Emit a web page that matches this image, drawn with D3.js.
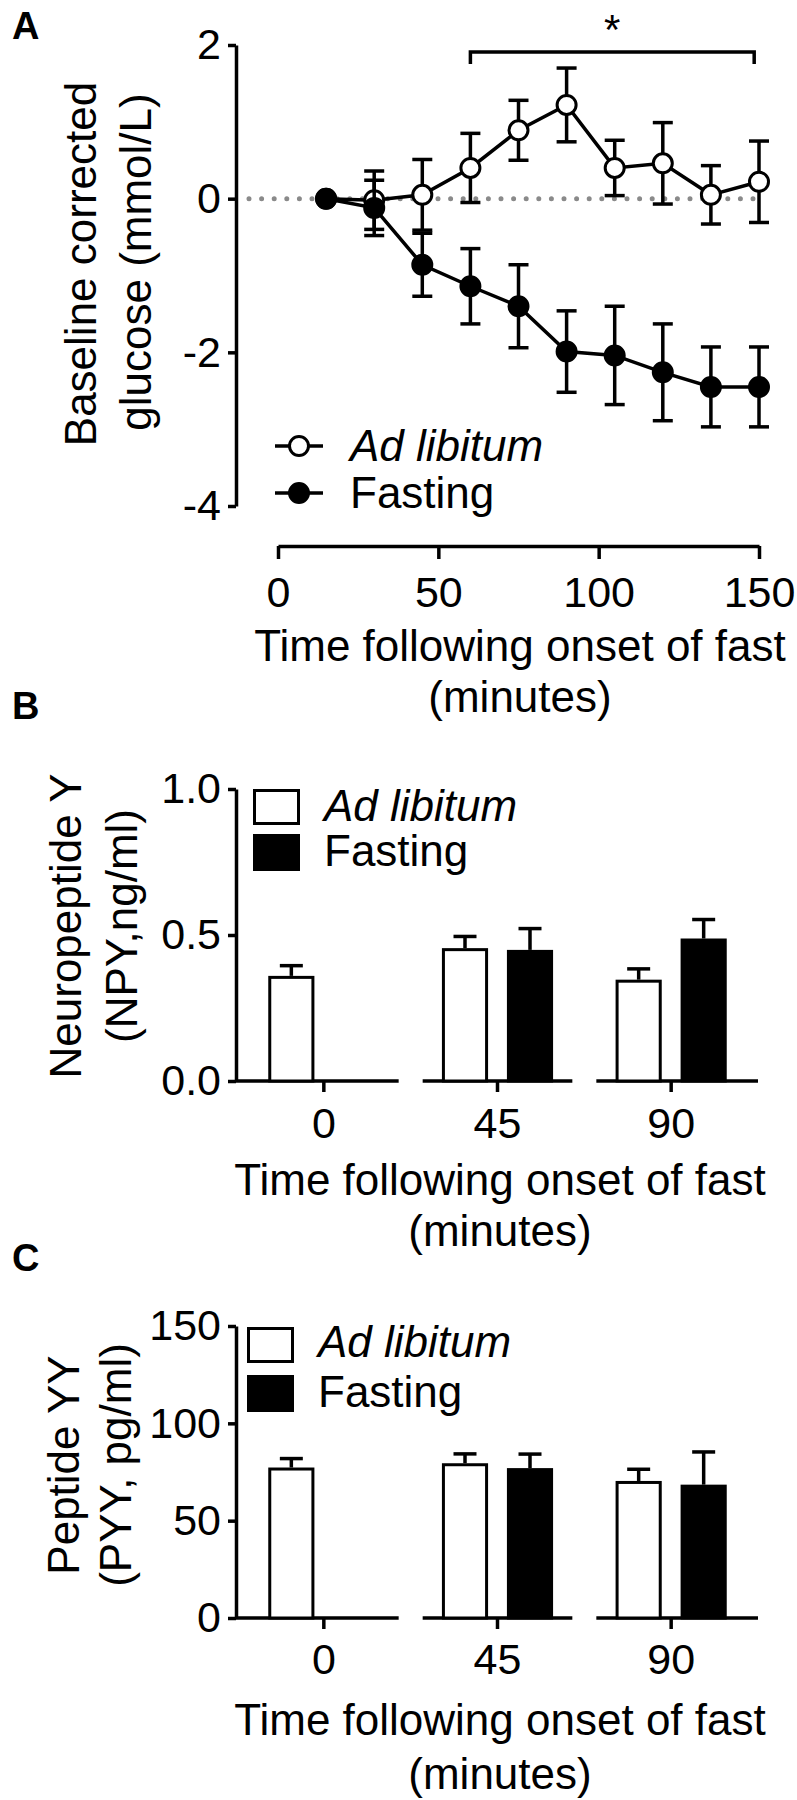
<!DOCTYPE html>
<html><head><meta charset="utf-8">
<script src="https://cdn.jsdelivr.net/npm/d3@7"></script>
<style>body{margin:0;background:#fff}</style>
</head><body><svg id="c" width="797" height="1800"></svg>
<script>
// ---------- DATA ----------
// Panel A: baseline corrected glucose (mmol/L)
const timesA      = [15, 30, 45, 60, 75, 90, 105, 120, 135, 150];
const adLibMeanA  = [0, -0.02, 0.05, 0.40, 0.89, 1.22, 0.40, 0.46, 0.05, 0.22];
const adLibSemA   = [0, 0.38, 0.46, 0.45, 0.39, 0.48, 0.36, 0.53, 0.38, 0.53];
const fastMeanA   = [0, -0.12, -0.86, -1.14, -1.40, -1.99, -2.04, -2.26, -2.45, -2.45];
const fastSemA    = [0, 0.36, 0.41, 0.49, 0.54, 0.53, 0.64, 0.63, 0.52, 0.52];
const yTicksA     = [-4, -2, 0, 2];
const xTicksA     = [0, 50, 100, 150];
const sigRangeA   = [60, 148.5];

// Panels B and C: groups
const groups      = ["0", "45", "90"];
const seriesNames = ["Ad libitum", "Fasting"];
// Panel B: Neuropeptide Y (ng/ml)
const npyAdLib    = [0.36, 0.455, 0.347];
const npyAdLibSem = [0.035, 0.04, 0.037];
const npyFast     = [null, 0.449, 0.488];
const npyFastSem  = [null, 0.073, 0.065];
const yTicksB     = [0, 0.5, 1.0];
// Panel C: Peptide YY (pg/ml)
const pyyAdLib    = [77.3, 79.5, 70.4];
const pyyAdLibSem = [4.6, 4.8, 6.0];
const pyyFast     = [null, 77.0, 68.5];
const pyyFastSem  = [null, 7.2, 16.8];
const yTicksC     = [0, 50, 100, 150];

// ---------- SETUP ----------
const FONT = '"Liberation Sans", Arial, Helvetica, sans-serif';
const SW = 3.5;
const TICKFS = 43;
const svg = d3.select("#c");
svg.append("rect").attr("width", 797).attr("height", 1800).attr("fill", "#fff");

function txt(x, y, s, size, opts = {}) {
  const t = svg.append("text").attr("x", x).attr("y", y).text(s)
    .attr("font-family", FONT).attr("font-size", size).attr("fill", "#000")
    .attr("text-anchor", opts.anchor || "start");
  if (opts.bold) t.attr("font-weight", "bold");
  if (opts.italic) t.attr("font-style", "italic");
  if (opts.rotate) t.attr("x", null).attr("y", null)
    .attr("transform", `translate(${x},${y}) rotate(-90)`);
  return t;
}
function styleAxis(g, fs) {
  g.attr("font-size", null).attr("font-family", null);
  g.selectAll("path.domain").attr("stroke", "#000").attr("stroke-width", SW);
  g.selectAll(".tick line").attr("stroke", "#000").attr("stroke-width", SW);
  g.selectAll(".tick text").attr("font-size", fs).attr("font-family", FONT).attr("fill", "#000");
}

// ---------- PANEL A ----------
txt(12, 39, "A", 38, {bold: true});
const xA = d3.scaleLinear().domain([0, 150]).range([278, 759]);
const yA = d3.scaleLinear().domain([-4, 2]).range([506, 45]);
const axA = 236;

const gyA = svg.append("g").attr("transform", `translate(${axA},0)`)
  .call(d3.axisLeft(yA).tickValues(yTicksA).tickSize(8).tickSizeOuter(0).tickPadding(7)
    .tickFormat(d => String(d)));
styleAxis(gyA, TICKFS);

const gxA = svg.append("g").attr("transform", "translate(0,546)")
  .call(d3.axisBottom(xA).tickValues(xTicksA).tickSize(13).tickSizeOuter(0));
styleAxis(gxA, TICKFS);
gxA.selectAll(".tick text").attr("dy", null).attr("y", 61);

// dotted zero line
svg.append("line").attr("x1", axA + 13).attr("x2", xA(150))
  .attr("y1", yA(0)).attr("y2", yA(0))
  .attr("stroke", "#8a8a8a").attr("stroke-width", 5)
  .attr("stroke-linecap", "round").attr("stroke-dasharray", "0,12.6");

const seriesA = [
  {name: "Ad libitum", fill: "#fff", pts: timesA.map((t, i) => ({t, m: adLibMeanA[i], s: adLibSemA[i]}))},
  {name: "Fasting", fill: "#000", pts: timesA.map((t, i) => ({t, m: fastMeanA[i], s: fastSemA[i]}))}
];
const lineA = d3.line().x(d => xA(d.t)).y(d => yA(d.m));
seriesA.forEach(sr => {
  const g = svg.append("g");
  sr.pts.filter(d => d.s > 0).forEach(d => {
    const x = xA(d.t);
    g.append("line").attr("x1", x).attr("x2", x).attr("y1", yA(d.m - d.s)).attr("y2", yA(d.m + d.s))
      .attr("stroke", "#000").attr("stroke-width", SW);
    [d.m - d.s, d.m + d.s].forEach(v => {
      g.append("line").attr("x1", x - 10).attr("x2", x + 10).attr("y1", yA(v)).attr("y2", yA(v))
        .attr("stroke", "#000").attr("stroke-width", SW);
    });
  });
  g.append("path").datum(sr.pts).attr("d", lineA).attr("fill", "none")
    .attr("stroke", "#000").attr("stroke-width", SW);
  g.selectAll("circle").data(sr.pts).join("circle")
    .attr("cx", d => xA(d.t)).attr("cy", d => yA(d.m)).attr("r", 9.5)
    .attr("fill", sr.fill).attr("stroke", "#000").attr("stroke-width", 3);
});

// significance bracket
svg.append("path")
  .attr("d", `M${xA(sigRangeA[0])},64V52H${xA(sigRangeA[1])}V64`)
  .attr("fill", "none").attr("stroke", "#000").attr("stroke-width", SW);
txt((xA(sigRangeA[0]) + xA(sigRangeA[1])) / 2, 44, "*", 42, {anchor: "middle"});

// legend A
seriesA.forEach((sr, i) => {
  const y = 446 + i * 47;
  svg.append("line").attr("x1", 275).attr("x2", 323).attr("y1", y).attr("y2", y)
    .attr("stroke", "#000").attr("stroke-width", SW);
  svg.append("circle").attr("cx", 299).attr("cy", y).attr("r", 9.5)
    .attr("fill", sr.fill).attr("stroke", "#000").attr("stroke-width", 3);
  txt(350, y + 15, sr.name, 44, {italic: i === 0});
});

// titles A
txt(96, 264, "Baseline corrected", 44, {anchor: "middle", rotate: true});
txt(151, 262, "glucose (mmol/L)", 44, {anchor: "middle", rotate: true});
txt(520, 661, "Time following onset of fast", 44, {anchor: "middle"});
txt(520, 712, "(minutes)", 44, {anchor: "middle"});

// ---------- BAR PANELS ----------
function barPanel(cfg) {
  const ax = 236;
  const y = d3.scaleLinear().domain(cfg.domain).range([cfg.y0, cfg.y1]);
  const x0 = d3.scaleBand().domain(groups).range([237, 758]);
  const c = x0.bandwidth() / 2;
  const x1 = d3.scaleBand().domain(seriesNames).range([c - 65, c + 65])
    .paddingInner(0.29).paddingOuter(0.145);

  const gy = svg.append("g").attr("transform", `translate(${ax},0)`)
    .call(d3.axisLeft(y).tickValues(cfg.ticks).tickSize(8).tickSizeOuter(0).tickPadding(7)
      .tickFormat(cfg.fmt));
  styleAxis(gy, TICKFS);

  // broken x-axis segments
  groups.forEach((g, i) => {
    const s = i === 0 ? ax : x0(g) + 12;
    const e = i === groups.length - 1 ? x0(g) + x0.bandwidth() : x0(g) + x0.bandwidth() - 12;
    svg.append("line").attr("x1", s).attr("x2", e).attr("y1", y(0)).attr("y2", y(0))
      .attr("stroke", "#000").attr("stroke-width", SW);
  });
  const gx = svg.append("g").attr("transform", `translate(0,${y(0)})`)
    .call(d3.axisBottom(x0).tickSize(11).tickSizeOuter(0));
  gx.select("path.domain").remove();
  styleAxis(gx, TICKFS);
  gx.selectAll(".tick text").attr("dy", null).attr("y", cfg.labelOff);

  const data = [
    {name: seriesNames[0], fill: "#fff", vals: cfg.a, sems: cfg.as},
    {name: seriesNames[1], fill: "#000", vals: cfg.f, sems: cfg.fs}
  ];
  data.forEach(sr => {
    groups.forEach((g, i) => {
      const v = sr.vals[i];
      if (v == null) return;
      const bx = x0(g) + x1(sr.name);
      const bw = x1.bandwidth();
      const cx = bx + bw / 2;
      const top = y(v + sr.sems[i]);
      svg.append("line").attr("x1", cx).attr("x2", cx).attr("y1", y(v)).attr("y2", top)
        .attr("stroke", "#000").attr("stroke-width", SW);
      svg.append("line").attr("x1", cx - 11.5).attr("x2", cx + 11.5).attr("y1", top).attr("y2", top)
        .attr("stroke", "#000").attr("stroke-width", SW);
      svg.append("rect").attr("x", bx + 1.5).attr("width", bw - 3)
        .attr("y", y(v) + 1.5).attr("height", y(0) - y(v) - 1.5)
        .attr("fill", sr.fill).attr("stroke", "#000").attr("stroke-width", 3);
    });
  });

  // legend
  const L = cfg.legend;
  svg.append("rect").attr("x", L.x + 1.5).attr("y", L.y1 + 1.5).attr("width", 44).attr("height", 33)
    .attr("fill", "#fff").attr("stroke", "#000").attr("stroke-width", 3);
  svg.append("rect").attr("x", L.x).attr("y", L.y2).attr("width", 47).attr("height", 37)
    .attr("fill", "#000");
  txt(L.tx, L.b1, seriesNames[0], 44, {italic: true});
  txt(L.tx, L.b2, seriesNames[1], 44);

  // titles
  txt(cfg.yt[0], cfg.yc, cfg.ylab[0], 44, {anchor: "middle", rotate: true});
  txt(cfg.yt[1], cfg.yc, cfg.ylab[1], 44, {anchor: "middle", rotate: true});
  txt(500, cfg.xt[0], "Time following onset of fast", 44, {anchor: "middle"});
  txt(500, cfg.xt[1], "(minutes)", 44, {anchor: "middle"});
}

txt(12, 719, "B", 38, {bold: true});
barPanel({
  domain: [0, 1], y0: 1081, y1: 789, ticks: yTicksB, fmt: d3.format(".1f"), labelOff: 57,
  a: npyAdLib, as: npyAdLibSem, f: npyFast, fs: npyFastSem,
  legend: {x: 253, y1: 789, y2: 834, tx: 324, b1: 821, b2: 866},
  yt: [81, 137], yc: 926, ylab: ["Neuropeptide Y", "(NPY,ng/ml)"],
  xt: [1195, 1246]
});

txt(12, 1271, "C", 38, {bold: true});
barPanel({
  domain: [0, 150], y0: 1618, y1: 1326, ticks: yTicksC, fmt: d => String(d), labelOff: 55.5,
  a: pyyAdLib, as: pyyAdLibSem, f: pyyFast, fs: pyyFastSem,
  legend: {x: 247, y1: 1327, y2: 1375, tx: 318, b1: 1357, b2: 1407},
  yt: [79, 131], yc: 1465, ylab: ["Peptide YY", "(PYY, pg/ml)"],
  xt: [1735, 1789]
});
</script></body></html>
